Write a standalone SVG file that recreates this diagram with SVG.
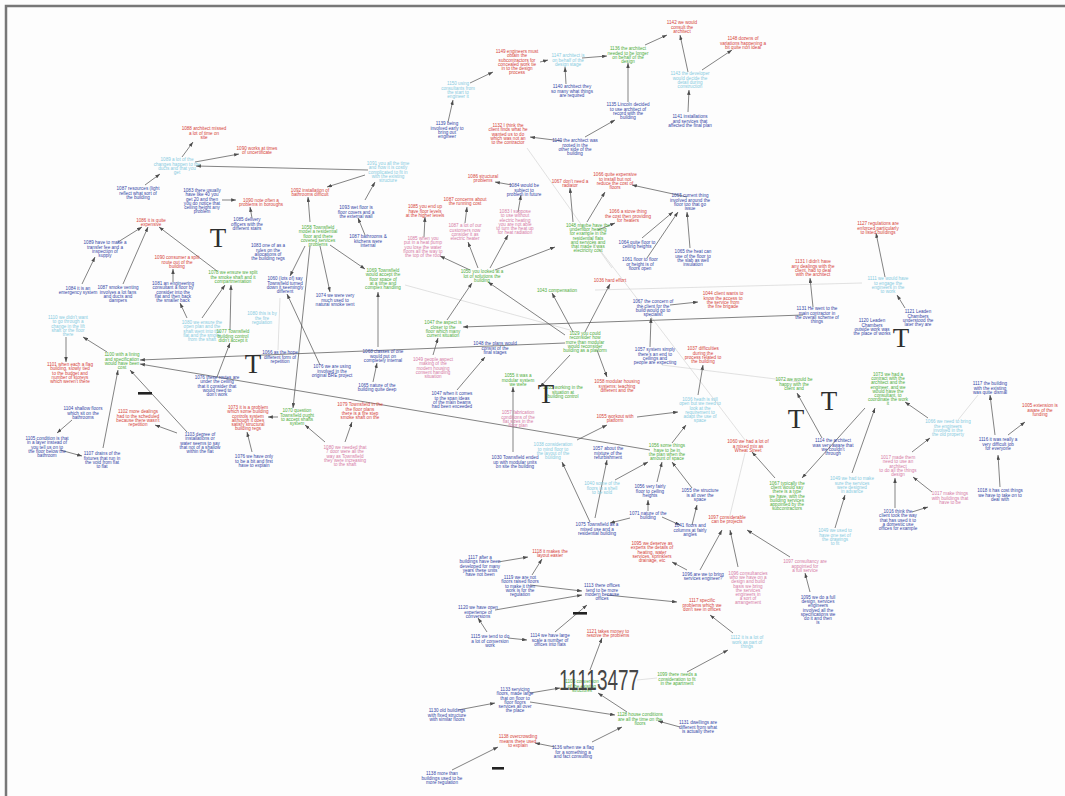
<svg xmlns="http://www.w3.org/2000/svg" width="1065" height="796" viewBox="0 0 1065 796">
<style>
text{font-family:"Liberation Sans",Arial,sans-serif;font-size:4.6px;text-anchor:middle}
.r text{fill:#d6433a}.b text{fill:#3446a6}.g text{fill:#4ead3c}.c text{fill:#87cbdf}.p text{fill:#d67ba6}
.e line{stroke:#4d4d4d;stroke-width:0.7;marker-end:url(#ah)}
.f line{stroke:#cfcfcf;stroke-width:0.6}
.big{font-family:"Liberation Serif",serif;font-size:27px;fill:#2e2e2e}
.num{font-family:"Liberation Sans",sans-serif;font-size:29px;fill:#333;opacity:.9}
</style>
<defs>
<marker id="ah" markerWidth="7" markerHeight="5" refX="7" refY="2.5" orient="auto"><path d="M0,0 L7,2.5 L0,5 z" fill="#4d4d4d"/></marker>
</defs>
<rect width="1065" height="796" fill="#fdfdfd"/>
<path d="M6,796 V6 H1065" fill="none" stroke="#777" stroke-width="2.5"/>

<g id="connectors">
<g class="f">
<line x1="527" y1="148" x2="612" y2="268"/>
<line x1="405" y1="285" x2="570" y2="330"/>
<line x1="595" y1="290" x2="862" y2="283"/>
<line x1="600" y1="250" x2="745" y2="440"/>
<line x1="662" y1="365" x2="800" y2="382"/>
<line x1="958" y1="420" x2="978" y2="395"/>
<line x1="278" y1="350" x2="280" y2="298"/>
<line x1="637" y1="680" x2="657" y2="678"/>
<line x1="730" y1="515" x2="745" y2="453"/>
</g>
<g class="e">
<line x1="582" y1="58" x2="607" y2="56"/>
<line x1="540" y1="62" x2="548" y2="60"/>
<line x1="566" y1="84" x2="565" y2="67"/>
<line x1="645" y1="45" x2="667" y2="35"/>
<line x1="628" y1="102" x2="628" y2="63"/>
<line x1="585" y1="137" x2="615" y2="120"/>
<line x1="702" y1="70" x2="732" y2="50"/>
<line x1="688" y1="72" x2="680" y2="35"/>
<line x1="688" y1="112" x2="689" y2="90"/>
<line x1="470" y1="83" x2="493" y2="72"/>
<line x1="448" y1="122" x2="453" y2="100"/>
<line x1="562" y1="141" x2="530" y2="137"/>
<line x1="885" y1="277" x2="876" y2="233"/>
<line x1="813" y1="307" x2="810" y2="278"/>
<line x1="905" y1="308" x2="897" y2="295"/>
<line x1="803" y1="315" x2="463" y2="327"/>
<line x1="182" y1="157" x2="193" y2="142"/>
<line x1="195" y1="162" x2="239" y2="154"/>
<line x1="368" y1="170" x2="196" y2="166"/>
<line x1="145" y1="185" x2="160" y2="174"/>
<line x1="222" y1="200" x2="236" y2="200"/>
<line x1="252" y1="218" x2="250" y2="207"/>
<line x1="118" y1="242" x2="142" y2="227"/>
<line x1="123" y1="284" x2="148" y2="227"/>
<line x1="82" y1="284" x2="95" y2="257"/>
<line x1="217" y1="271" x2="159" y2="227"/>
<line x1="173" y1="282" x2="173" y2="269"/>
<line x1="187" y1="318" x2="180" y2="303"/>
<line x1="202" y1="318" x2="225" y2="285"/>
<line x1="230" y1="330" x2="231" y2="285"/>
<line x1="66" y1="337" x2="66" y2="362"/>
<line x1="107" y1="352" x2="83" y2="337"/>
<line x1="565" y1="343" x2="140" y2="360"/>
<line x1="650" y1="450" x2="140" y2="364"/>
<line x1="72" y1="420" x2="57" y2="433"/>
<line x1="60" y1="450" x2="82" y2="456"/>
<line x1="103" y1="448" x2="118" y2="370"/>
<line x1="177" y1="433" x2="155" y2="425"/>
<line x1="187" y1="432" x2="130" y2="370"/>
<line x1="217" y1="377" x2="230" y2="343"/>
<line x1="252" y1="452" x2="247" y2="432"/>
<line x1="278" y1="417" x2="268" y2="417"/>
<line x1="310" y1="246" x2="293" y2="408"/>
<line x1="310" y1="222" x2="308" y2="197"/>
<line x1="365" y1="175" x2="327" y2="187"/>
<line x1="365" y1="200" x2="375" y2="182"/>
<line x1="365" y1="235" x2="358" y2="218"/>
<line x1="305" y1="246" x2="290" y2="276"/>
<line x1="320" y1="246" x2="330" y2="292"/>
<line x1="330" y1="245" x2="365" y2="269"/>
<line x1="320" y1="365" x2="287" y2="294"/>
<line x1="378" y1="347" x2="378" y2="292"/>
<line x1="373" y1="382" x2="377" y2="363"/>
<line x1="325" y1="442" x2="305" y2="425"/>
<line x1="345" y1="442" x2="352" y2="422"/>
<line x1="470" y1="270" x2="440" y2="256"/>
<line x1="478" y1="268" x2="468" y2="242"/>
<line x1="490" y1="268" x2="508" y2="235"/>
<line x1="424" y1="237" x2="425" y2="217"/>
<line x1="465" y1="223" x2="467" y2="207"/>
<line x1="518" y1="212" x2="521" y2="195"/>
<line x1="512" y1="185" x2="495" y2="182"/>
<line x1="447" y1="320" x2="472" y2="283"/>
<line x1="565" y1="335" x2="488" y2="282"/>
<line x1="433" y1="355" x2="438" y2="338"/>
<line x1="457" y1="390" x2="485" y2="357"/>
<line x1="513" y1="452" x2="513" y2="387"/>
<line x1="573" y1="222" x2="570" y2="188"/>
<line x1="587" y1="222" x2="605" y2="192"/>
<line x1="598" y1="230" x2="615" y2="223"/>
<line x1="495" y1="270" x2="555" y2="247"/>
<line x1="642" y1="238" x2="673" y2="212"/>
<line x1="647" y1="258" x2="678" y2="212"/>
<line x1="690" y1="248" x2="687" y2="212"/>
<line x1="687" y1="197" x2="632" y2="185"/>
<line x1="573" y1="332" x2="552" y2="293"/>
<line x1="585" y1="332" x2="610" y2="284"/>
<line x1="597" y1="350" x2="607" y2="377"/>
<line x1="570" y1="355" x2="540" y2="387"/>
<line x1="650" y1="347" x2="651" y2="318"/>
<line x1="670" y1="305" x2="698" y2="302"/>
<line x1="698" y1="395" x2="703" y2="365"/>
<line x1="637" y1="417" x2="678" y2="412"/>
<line x1="577" y1="440" x2="607" y2="425"/>
<line x1="672" y1="443" x2="686" y2="425"/>
<line x1="615" y1="480" x2="648" y2="462"/>
<line x1="657" y1="482" x2="662" y2="462"/>
<line x1="692" y1="488" x2="672" y2="462"/>
<line x1="648" y1="511" x2="648" y2="500"/>
<line x1="630" y1="518" x2="610" y2="523"/>
<line x1="590" y1="522" x2="562" y2="462"/>
<line x1="595" y1="518" x2="607" y2="460"/>
<line x1="662" y1="517" x2="680" y2="525"/>
<line x1="692" y1="525" x2="697" y2="505"/>
<line x1="775" y1="478" x2="752" y2="452"/>
<line x1="822" y1="438" x2="797" y2="393"/>
<line x1="865" y1="408" x2="802" y2="478"/>
<line x1="852" y1="473" x2="875" y2="408"/>
<line x1="928" y1="418" x2="905" y2="402"/>
<line x1="912" y1="452" x2="930" y2="438"/>
<line x1="932" y1="492" x2="913" y2="477"/>
<line x1="895" y1="508" x2="895" y2="478"/>
<line x1="912" y1="512" x2="928" y2="507"/>
<line x1="835" y1="528" x2="845" y2="495"/>
<line x1="995" y1="435" x2="990" y2="395"/>
<line x1="1008" y1="435" x2="1025" y2="422"/>
<line x1="1000" y1="487" x2="998" y2="455"/>
<line x1="498" y1="562" x2="528" y2="557"/>
<line x1="532" y1="575" x2="542" y2="559"/>
<line x1="495" y1="610" x2="582" y2="595"/>
<line x1="530" y1="585" x2="582" y2="591"/>
<line x1="487" y1="632" x2="478" y2="618"/>
<line x1="508" y1="638" x2="527" y2="640"/>
<line x1="555" y1="632" x2="587" y2="605"/>
<line x1="607" y1="595" x2="677" y2="602"/>
<line x1="733" y1="633" x2="710" y2="615"/>
<line x1="687" y1="570" x2="672" y2="562"/>
<line x1="700" y1="570" x2="722" y2="530"/>
<line x1="738" y1="567" x2="730" y2="530"/>
<line x1="790" y1="557" x2="747" y2="530"/>
<line x1="810" y1="592" x2="805" y2="573"/>
<line x1="590" y1="670" x2="602" y2="638"/>
<line x1="687" y1="672" x2="728" y2="650"/>
<line x1="458" y1="710" x2="495" y2="703"/>
<line x1="530" y1="693" x2="560" y2="688"/>
<line x1="530" y1="702" x2="615" y2="715"/>
<line x1="627" y1="712" x2="598" y2="693"/>
<line x1="680" y1="727" x2="658" y2="721"/>
<line x1="592" y1="742" x2="622" y2="727"/>
<line x1="555" y1="747" x2="535" y2="743"/>
<line x1="452" y1="770" x2="498" y2="747"/>
</g>
</g>

<g id="n1142" class="r"><text y="24.4"><tspan x="682">1142 we would</tspan><tspan x="682" dy="4.2">consult the</tspan><tspan x="682" dy="4.2">architect</tspan></text></g>
<g id="n1148" class="r"><text y="40.4"><tspan x="743">1148 dozens of</tspan><tspan x="743" dy="4.2">variations happening a</tspan><tspan x="743" dy="4.2">bit quite non ideal</tspan></text></g>
<g id="n1149" class="r"><text y="53.1"><tspan x="517">1149 engineers must</tspan><tspan x="517" dy="4.2">obtain the</tspan><tspan x="517" dy="4.2">subcontractors for</tspan><tspan x="517" dy="4.2">concealed work tie</tspan><tspan x="517" dy="4.2">in to the design</tspan><tspan x="517" dy="4.2">process</tspan></text></g>
<g id="n1150" class="c"><text y="85.3"><tspan x="458">1150 using</tspan><tspan x="458" dy="4.2">consultants from</tspan><tspan x="458" dy="4.2">the start to</tspan><tspan x="458" dy="4.2">engineer it</tspan></text></g>
<g id="n1139" class="b"><text y="125.3"><tspan x="447">1139 being</tspan><tspan x="447" dy="4.2">involved early to</tspan><tspan x="447" dy="4.2">bring out</tspan><tspan x="447" dy="4.2">engineer</tspan></text></g>
<g id="n1132" class="r"><text y="127.2"><tspan x="508">1132 I think the</tspan><tspan x="508" dy="4.2">client finds what he</tspan><tspan x="508" dy="4.2">wanted us to do</tspan><tspan x="508" dy="4.2">which was not an</tspan><tspan x="508" dy="4.2">to the contractor</tspan></text></g>
<g id="n1147" class="c"><text y="57.4"><tspan x="568">1147 architect is</tspan><tspan x="568" dy="4.2">on behalf of the</tspan><tspan x="568" dy="4.2">design stage</tspan></text></g>
<g id="n1136" class="g"><text y="50.3"><tspan x="628">1136 the architect</tspan><tspan x="628" dy="4.2">needed to be longer</tspan><tspan x="628" dy="4.2">on behalf of the</tspan><tspan x="628" dy="4.2">design</tspan></text></g>
<g id="n1140a" class="b"><text y="88.4"><tspan x="572">1140 architect they</tspan><tspan x="572" dy="4.2">so many what things</tspan><tspan x="572" dy="4.2">are required</tspan></text></g>
<g id="n1135" class="b"><text y="106.3"><tspan x="628">1135 Lincoln decided</tspan><tspan x="628" dy="4.2">to use architect of</tspan><tspan x="628" dy="4.2">record with the</tspan><tspan x="628" dy="4.2">building</tspan></text></g>
<g id="n1140" class="b"><text y="142.3"><tspan x="575">1140 the architect was</tspan><tspan x="575" dy="4.2">rooted in the</tspan><tspan x="575" dy="4.2">other side of the</tspan><tspan x="575" dy="4.2">building</tspan></text></g>
<g id="n1143" class="c"><text y="75.3"><tspan x="690">1143 the developer</tspan><tspan x="690" dy="4.2">would decide the</tspan><tspan x="690" dy="4.2">detail during</tspan><tspan x="690" dy="4.2">construction</tspan></text></g>
<g id="n1141" class="b"><text y="118.4"><tspan x="690">1141 installations</tspan><tspan x="690" dy="4.2">and services that</tspan><tspan x="690" dy="4.2">affected the final plan</tspan></text></g>
<g id="n1127" class="r"><text y="225.4"><tspan x="878">1127 regulations are</tspan><tspan x="878" dy="4.2">enforced particularly</tspan><tspan x="878" dy="4.2">to listed buildings</tspan></text></g>
<g id="n1131a" class="r"><text y="263.3"><tspan x="813">1131 I didn't have</tspan><tspan x="813" dy="4.2">any dealings with the</tspan><tspan x="813" dy="4.2">client, had to deal</tspan><tspan x="813" dy="4.2">with the architect</tspan></text></g>

<g id="n1088" class="r"><text y="130.4"><tspan x="204">1088 architect missed</tspan><tspan x="204" dy="4.2">a lot of time on</tspan><tspan x="204" dy="4.2">site</tspan></text></g>
<g id="n1089" class="c"><text y="161.3"><tspan x="177">1089 a lot of the</tspan><tspan x="177" dy="4.2">changes happen to the</tspan><tspan x="177" dy="4.2">ducts and that you</tspan><tspan x="177" dy="4.2">get</tspan></text></g>
<g id="n1090a" class="r"><text y="149.5"><tspan x="257">1090 works at times</tspan><tspan x="257" dy="4.2">of uncertificate</tspan></text></g>
<g id="n1091" class="c"><text y="165.2"><tspan x="388">1091 you all the time</tspan><tspan x="388" dy="4.2">and how it is costly</tspan><tspan x="388" dy="4.2">complicated to fit in</tspan><tspan x="388" dy="4.2">with the existing</tspan><tspan x="388" dy="4.2">structure</tspan></text></g>
<g id="n1087a" class="b"><text y="190.4"><tspan x="138">1087 resources (light</tspan><tspan x="138" dy="4.2">reflect what sort of</tspan><tspan x="138" dy="4.2">the building</tspan></text></g>
<g id="n1083a" class="b"><text y="192.1"><tspan x="202">1083 there usually</tspan><tspan x="202" dy="4.2">have like 40 you</tspan><tspan x="202" dy="4.2">get 20 and then</tspan><tspan x="202" dy="4.2">you do notice that</tspan><tspan x="202" dy="4.2">ceiling height any</tspan><tspan x="202" dy="4.2">problem</tspan></text></g>
<g id="n1090b" class="r"><text y="201.5"><tspan x="261">1090 note often a</tspan><tspan x="261" dy="4.2">problems in boroughs</tspan></text></g>
<g id="n1085a" class="b"><text y="221.4"><tspan x="247">1085 delivery</tspan><tspan x="247" dy="4.2">officers with the</tspan><tspan x="247" dy="4.2">different stairs</tspan></text></g>
<g id="n1083c" class="b"><text y="247.3"><tspan x="268">1083 one of as a</tspan><tspan x="268" dy="4.2">rules on the</tspan><tspan x="268" dy="4.2">allocations of</tspan><tspan x="268" dy="4.2">the building regs</tspan></text></g>
<g id="n1086c" class="r"><text y="221.5"><tspan x="151">1086 it is quite</tspan><tspan x="151" dy="4.2">expensive</tspan></text></g>
<g id="n1089b" class="b"><text y="244.3"><tspan x="105">1089 have to make a</tspan><tspan x="105" dy="4.2">transfer fee and a</tspan><tspan x="105" dy="4.2">inspection of</tspan><tspan x="105" dy="4.2">supply</tspan></text></g>
<g id="n1090c" class="r"><text y="259.4"><tspan x="177">1090 consumer a split</tspan><tspan x="177" dy="4.2">route out of the</tspan><tspan x="177" dy="4.2">building</tspan></text></g>
<g id="n1092" class="r"><text y="191.5"><tspan x="310">1092 installation of</tspan><tspan x="310" dy="4.2">bathrooms difficult</tspan></text></g>
<g id="n1093" class="b"><text y="209.4"><tspan x="356">1093 wet floor is</tspan><tspan x="356" dy="4.2">floor covers and a</tspan><tspan x="356" dy="4.2">the external wall</tspan></text></g>
<g id="n1087b" class="b"><text y="238.4"><tspan x="368">1087 bathrooms &amp;</tspan><tspan x="368" dy="4.2">kitchens were</tspan><tspan x="368" dy="4.2">internal</tspan></text></g>
<g id="n1058" class="g"><text y="229.2"><tspan x="318">1058 Townsfield</tspan><tspan x="318" dy="4.2">model a residential</tspan><tspan x="318" dy="4.2">floor and there</tspan><tspan x="318" dy="4.2">covered services</tspan><tspan x="318" dy="4.2">problems</tspan></text></g>
<g id="n1085b" class="r"><text y="208.4"><tspan x="425">1085 you end up</tspan><tspan x="425" dy="4.2">have floor levels</tspan><tspan x="425" dy="4.2">at the higher levels</tspan></text></g>
<g id="n1087c" class="r"><text y="200.5"><tspan x="465">1087 concerns about</tspan><tspan x="465" dy="4.2">the running cost</tspan></text></g>
<g id="n1086b" class="r"><text y="177.5"><tspan x="483">1086 structural</tspan><tspan x="483" dy="4.2">problems</tspan></text></g>
<g id="n1084a" class="b"><text y="187.4"><tspan x="524">1084 would be</tspan><tspan x="524" dy="4.2">subject to</tspan><tspan x="524" dy="4.2">problem in future</tspan></text></g>
<g id="n1085c" class="p"><text y="240.2"><tspan x="423">1085 when you</tspan><tspan x="423" dy="4.2">put in a heat pump</tspan><tspan x="423" dy="4.2">you lose the water</tspan><tspan x="423" dy="4.2">floors all the way to</tspan><tspan x="423" dy="4.2">the top of the roof</tspan></text></g>
<g id="n1087d" class="p"><text y="227.3"><tspan x="465">1087 a lot of our</tspan><tspan x="465" dy="4.2">customers now</tspan><tspan x="465" dy="4.2">consider it as</tspan><tspan x="465" dy="4.2">electric heater</tspan></text></g>
<g id="n1083b" class="p"><text y="213.1"><tspan x="515">1083 I suppose</tspan><tspan x="515" dy="4.2">to use without</tspan><tspan x="515" dy="4.2">electric heating</tspan><tspan x="515" dy="4.2">you are not able</tspan><tspan x="515" dy="4.2">to turn the heat up</tspan><tspan x="515" dy="4.2">for heat radiation</tspan></text></g>
<g id="n1066a" class="r"><text y="176.3"><tspan x="615">1066 quite expensive</tspan><tspan x="615" dy="4.2">to install but not</tspan><tspan x="615" dy="4.2">reduce the cost of</tspan><tspan x="615" dy="4.2">floors</tspan></text></g>
<g id="n1067a" class="r"><text y="182.5"><tspan x="570">1067 don't need a</tspan><tspan x="570" dy="4.2">radiator</tspan></text></g>
<g id="n1066b" class="r"><text y="213.4"><tspan x="628">1066 a stove thing</tspan><tspan x="628" dy="4.2">the cost then providing</tspan><tspan x="628" dy="4.2">for heaters</tspan></text></g>
<g id="n1065a" class="b"><text y="197.3"><tspan x="690">1065 current thing</tspan><tspan x="690" dy="4.2">involved around the</tspan><tspan x="690" dy="4.2">floor too that go</tspan><tspan x="690" dy="4.2">issue</tspan></text></g>
<g id="n1048" class="g"><text y="227"><tspan x="588">1048 maybe have the</tspan><tspan x="588" dy="4.2">underfloor heating</tspan><tspan x="588" dy="4.2">for example in the</tspan><tspan x="588" dy="4.2">residential flats</tspan><tspan x="588" dy="4.2">and services and</tspan><tspan x="588" dy="4.2">that made it was</tspan><tspan x="588" dy="4.2">electricity cost</tspan></text></g>
<g id="n1064" class="b"><text y="243.5"><tspan x="637">1064 quite floor to</tspan><tspan x="637" dy="4.2">ceiling heights</tspan></text></g>
<g id="n1061" class="b"><text y="261.4"><tspan x="640">1061 floor to floor</tspan><tspan x="640" dy="4.2">or height is of</tspan><tspan x="640" dy="4.2">floors open</tspan></text></g>
<g id="n1065b" class="b"><text y="253.3"><tspan x="693">1065 the heat can</tspan><tspan x="693" dy="4.2">use of the floor to</tspan><tspan x="693" dy="4.2">the slab as well</tspan><tspan x="693" dy="4.2">insulation</tspan></text></g>

<g id="n1084b" class="b"><text y="289.5"><tspan x="78">1084 it is an</tspan><tspan x="78" dy="4.2">emergency system</tspan></text></g>
<g id="n1087e" class="b"><text y="289.3"><tspan x="118">1087 smoke venting</tspan><tspan x="118" dy="4.2">involves a lot fans</tspan><tspan x="118" dy="4.2">and ducts and</tspan><tspan x="118" dy="4.2">dampers</tspan></text></g>
<g id="n1081" class="b"><text y="285.2"><tspan x="173">1081 an engineering</tspan><tspan x="173" dy="4.2">consultant a floor by</tspan><tspan x="173" dy="4.2">consider into the</tspan><tspan x="173" dy="4.2">flat and then back</tspan><tspan x="173" dy="4.2">the smaller back</tspan></text></g>
<g id="n1078" class="g"><text y="274.4"><tspan x="233">1078 we ensure we split</tspan><tspan x="233" dy="4.2">the smoke shaft and it</tspan><tspan x="233" dy="4.2">compartmentation</tspan></text></g>
<g id="n1080a" class="c"><text y="324.2"><tspan x="202">1080 we ensure the</tspan><tspan x="202" dy="4.2">open plan and the</tspan><tspan x="202" dy="4.2">shaft went into the</tspan><tspan x="202" dy="4.2">flat and the smoke</tspan><tspan x="202" dy="4.2">from the shaft</tspan></text></g>
<g id="n1077" class="g"><text y="333.4"><tspan x="233">1077 Townsfield</tspan><tspan x="233" dy="4.2">building control</tspan><tspan x="233" dy="4.2">didn't accept it</tspan></text></g>
<g id="n1110" class="c"><text y="319.2"><tspan x="68">1110 we didn't want</tspan><tspan x="68" dy="4.2">to go through a</tspan><tspan x="68" dy="4.2">change in the lift</tspan><tspan x="68" dy="4.2">shaft or the floor</tspan><tspan x="68" dy="4.2">there</tspan></text></g>
<g id="n1101" class="r"><text y="366.2"><tspan x="70">1101 when each a flag</tspan><tspan x="70" dy="4.2">building, slowly tied</tspan><tspan x="70" dy="4.2">to the budget and</tspan><tspan x="70" dy="4.2">number of storeys</tspan><tspan x="70" dy="4.2">which weren't there</tspan></text></g>
<g id="n1100" class="g"><text y="356.3"><tspan x="122">1100 with a lining</tspan><tspan x="122" dy="4.2">and specification</tspan><tspan x="122" dy="4.2">would have been</tspan><tspan x="122" dy="4.2">cost</tspan></text></g>
<g id="n1104" class="b"><text y="410.4"><tspan x="83">1104 shallow floors</tspan><tspan x="83" dy="4.2">which sit on the</tspan><tspan x="83" dy="4.2">bathrooms</tspan></text></g>
<g id="n1105" class="b"><text y="440.2"><tspan x="47">1105 condition is that</tspan><tspan x="47" dy="4.2">in a layer instead of</tspan><tspan x="47" dy="4.2">you tell us on to</tspan><tspan x="47" dy="4.2">the floor below the</tspan><tspan x="47" dy="4.2">bathroom</tspan></text></g>
<g id="n1107" class="b"><text y="455.3"><tspan x="102">1107 drains of the</tspan><tspan x="102" dy="4.2">fixtures that run in</tspan><tspan x="102" dy="4.2">the void from flat</tspan><tspan x="102" dy="4.2">to flat</tspan></text></g>
<g id="n1102" class="r"><text y="413.3"><tspan x="138">1102 more dealings</tspan><tspan x="138" dy="4.2">had to the scheduled</tspan><tspan x="138" dy="4.2">because there wasn't</tspan><tspan x="138" dy="4.2">repetition</tspan></text></g>
<g id="n1103" class="b"><text y="436.2"><tspan x="200">1103 degree of</tspan><tspan x="200" dy="4.2">installations or</tspan><tspan x="200" dy="4.2">water seems to say</tspan><tspan x="200" dy="4.2">that not of a shallow</tspan><tspan x="200" dy="4.2">within the flat</tspan></text></g>
<g id="n1076a" class="b"><text y="379.2"><tspan x="217">1076 these routes are</tspan><tspan x="217" dy="4.2">under the ceiling</tspan><tspan x="217" dy="4.2">that it consider that</tspan><tspan x="217" dy="4.2">would need to</tspan><tspan x="217" dy="4.2">don't work</tspan></text></g>
<g id="n1073" class="r"><text y="409.1"><tspan x="248">1073 it is a problem</tspan><tspan x="248" dy="4.2">which some building</tspan><tspan x="248" dy="4.2">controls system</tspan><tspan x="248" dy="4.2">although it does</tspan><tspan x="248" dy="4.2">satisfy structural</tspan><tspan x="248" dy="4.2">building regs</tspan></text></g>
<g id="n1076b" class="b"><text y="458.4"><tspan x="254">1076 we have only</tspan><tspan x="254" dy="4.2">to be a bit and first</tspan><tspan x="254" dy="4.2">have to explain</tspan></text></g>
<g id="n1060" class="b"><text y="280.3"><tspan x="285">1060 (lots of) say</tspan><tspan x="285" dy="4.2">Townsfield turned</tspan><tspan x="285" dy="4.2">down it seemingly</tspan><tspan x="285" dy="4.2">different</tspan></text></g>
<g id="n1074" class="b"><text y="297.4"><tspan x="335">1074 we were very</tspan><tspan x="335" dy="4.2">much used to</tspan><tspan x="335" dy="4.2">natural smoke vent</tspan></text></g>
<g id="n1069" class="g"><text y="272.2"><tspan x="383">1069 Townsfield</tspan><tspan x="383" dy="4.2">would accept the</tspan><tspan x="383" dy="4.2">floor space of</tspan><tspan x="383" dy="4.2">at a time and</tspan><tspan x="383" dy="4.2">complex handling</tspan></text></g>
<g id="n1068" class="b"><text y="353.4"><tspan x="383">1068 classes of one</tspan><tspan x="383" dy="4.2">would put on</tspan><tspan x="383" dy="4.2">completely internal</tspan></text></g>
<g id="n1065c" class="b"><text y="386.5"><tspan x="377">1065 nature of the</tspan><tspan x="377" dy="4.2">building quite deep</tspan></text></g>
<g id="n1080b" class="c"><text y="315.4"><tspan x="262">1080 this is by</tspan><tspan x="262" dy="4.2">the fire</tspan><tspan x="262" dy="4.2">regulation</tspan></text></g>
<g id="n1066c" class="b"><text y="354.4"><tspan x="280">1066 as the hope</tspan><tspan x="280" dy="4.2">different form of</tspan><tspan x="280" dy="4.2">repetition</tspan></text></g>
<g id="n1076c" class="b"><text y="368.4"><tspan x="332">1076 we are using</tspan><tspan x="332" dy="4.2">involved in the</tspan><tspan x="332" dy="4.2">original BRE project</tspan></text></g>
<g id="n1070" class="g"><text y="412.3"><tspan x="297">1070 question</tspan><tspan x="297" dy="4.2">Townsfield ought</tspan><tspan x="297" dy="4.2">to accept shafts</tspan><tspan x="297" dy="4.2">system</tspan></text></g>
<g id="n1079" class="r"><text y="406.3"><tspan x="360">1079 Townsfield in the</tspan><tspan x="360" dy="4.2">the floor plans</tspan><tspan x="360" dy="4.2">there is a fire step</tspan><tspan x="360" dy="4.2">smoke shaft on the</tspan></text></g>
<g id="n1080c" class="p"><text y="449.2"><tspan x="345">1080 we needed that</tspan><tspan x="345" dy="4.2">7 door were all the</tspan><tspan x="345" dy="4.2">way as Townsfield</tspan><tspan x="345" dy="4.2">they were increasing</tspan><tspan x="345" dy="4.2">to the shaft</tspan></text></g>

<g id="n1050" class="g"><text y="273.4"><tspan x="482">1050 you looked at a</tspan><tspan x="482" dy="4.2">lot of solutions the</tspan><tspan x="482" dy="4.2">building</tspan></text></g>
<g id="n1047a" class="g"><text y="324.3"><tspan x="443">1047 the aspect is</tspan><tspan x="443" dy="4.2">closer to the</tspan><tspan x="443" dy="4.2">floor which many</tspan><tspan x="443" dy="4.2">current situation</tspan></text></g>
<g id="n1049" class="p"><text y="361.2"><tspan x="433">1049 people aspect</tspan><tspan x="433" dy="4.2">making of the</tspan><tspan x="433" dy="4.2">modern housing</tspan><tspan x="433" dy="4.2">consent handling</tspan><tspan x="433" dy="4.2">situation</tspan></text></g>
<g id="n1048b" class="b"><text y="345.4"><tspan x="495">1048 the plans would</tspan><tspan x="495" dy="4.2">consist of the</tspan><tspan x="495" dy="4.2">final stages</tspan></text></g>
<g id="n1047b" class="b"><text y="395.3"><tspan x="452">1047 when it comes</tspan><tspan x="452" dy="4.2">to the span ideas</tspan><tspan x="452" dy="4.2">of the main beams</tspan><tspan x="452" dy="4.2">had been exceeded</tspan></text></g>
<g id="n1030" class="b"><text y="459.4"><tspan x="515">1030 Townsfield ended</tspan><tspan x="515" dy="4.2">up with modular units</tspan><tspan x="515" dy="4.2">on site the building</tspan></text></g>
<g id="n1057a" class="p"><text y="414.3"><tspan x="518">1057 fabrication</tspan><tspan x="518" dy="4.2">conditions of the</tspan><tspan x="518" dy="4.2">flat sizes in the</tspan><tspan x="518" dy="4.2">floor plan</tspan></text></g>
<g id="n1055a" class="g"><text y="377.4"><tspan x="518">1055 it was a</tspan><tspan x="518" dy="4.2">modular system</tspan><tspan x="518" dy="4.2">we were</tspan></text></g>
<g id="n1036a" class="r"><text y="281.6"><tspan x="610">1036 hard effort</tspan></text></g>
<g id="n1043" class="g"><text y="291.6"><tspan x="557">1043 compensation</tspan></text></g>
<g id="n1067b" class="b"><text y="303.3"><tspan x="653">1067 the concern of</tspan><tspan x="653" dy="4.2">the client for the</tspan><tspan x="653" dy="4.2">build would go to</tspan><tspan x="653" dy="4.2">specialist</tspan></text></g>
<g id="n1044" class="r"><text y="295.3"><tspan x="723">1044 client wants to</tspan><tspan x="723" dy="4.2">know the access to</tspan><tspan x="723" dy="4.2">the service from</tspan><tspan x="723" dy="4.2">the fire brigade</tspan></text></g>
<g id="n1057b" class="b"><text y="351.3"><tspan x="655">1057 system simply</tspan><tspan x="655" dy="4.2">there's an end to</tspan><tspan x="655" dy="4.2">ceilings and</tspan><tspan x="655" dy="4.2">people are expecting</tspan></text></g>
<g id="n1029" class="g"><text y="335.2"><tspan x="585">1029 you could</tspan><tspan x="585" dy="4.2">reconsider how</tspan><tspan x="585" dy="4.2">more than modular</tspan><tspan x="585" dy="4.2">would reconsider</tspan><tspan x="585" dy="4.2">building as a platform</tspan></text></g>
<g id="n1058b" class="r"><text y="383.4"><tspan x="617">1058 modular housing</tspan><tspan x="617" dy="4.2">systems: teaching</tspan><tspan x="617" dy="4.2">different and the</tspan></text></g>
<g id="n1035" class="g"><text y="389.4"><tspan x="563">1035 working in the</tspan><tspan x="563" dy="4.2">situation at</tspan><tspan x="563" dy="4.2">building control</tspan></text></g>
<g id="n1037" class="r"><text y="350.3"><tspan x="703">1037 difficulties</tspan><tspan x="703" dy="4.2">during the</tspan><tspan x="703" dy="4.2">process related to</tspan><tspan x="703" dy="4.2">the building</tspan></text></g>
<g id="n1036b" class="c"><text y="401.1"><tspan x="700">1036 heath is still</tspan><tspan x="700" dy="4.2">open but we need to</tspan><tspan x="700" dy="4.2">look at the</tspan><tspan x="700" dy="4.2">requirement to</tspan><tspan x="700" dy="4.2">adapt the use of</tspan><tspan x="700" dy="4.2">space</tspan></text></g>
<g id="n1055b" class="r"><text y="417.5"><tspan x="615">1055 workout with</tspan><tspan x="615" dy="4.2">platform</tspan></text></g>
<g id="n1038" class="c"><text y="446.3"><tspan x="553">1038 consideration</tspan><tspan x="553" dy="4.2">to mind floor to</tspan><tspan x="553" dy="4.2">the layout of the</tspan><tspan x="553" dy="4.2">building</tspan></text></g>
<g id="n1057c" class="b"><text y="450.4"><tspan x="608">1057 about the</tspan><tspan x="608" dy="4.2">mixture of the</tspan><tspan x="608" dy="4.2">refurbishment</tspan></text></g>
<g id="n1056a" class="g"><text y="447.3"><tspan x="667">1056 some things</tspan><tspan x="667" dy="4.2">have to be in</tspan><tspan x="667" dy="4.2">the plan when the</tspan><tspan x="667" dy="4.2">amount of space</tspan></text></g>
<g id="n1040" class="c"><text y="485.4"><tspan x="602">1040 some of the</tspan><tspan x="602" dy="4.2">floors in a shell</tspan><tspan x="602" dy="4.2">to be sold</tspan></text></g>
<g id="n1056b" class="b"><text y="488.4"><tspan x="650">1056 very fairly</tspan><tspan x="650" dy="4.2">floor to ceiling</tspan><tspan x="650" dy="4.2">heights</tspan></text></g>
<g id="n1055c" class="b"><text y="492.4"><tspan x="700">1055 the structure</tspan><tspan x="700" dy="4.2">is all over the</tspan><tspan x="700" dy="4.2">space</tspan></text></g>
<g id="n1071" class="b"><text y="514.5"><tspan x="648">1071 nature of the</tspan><tspan x="648" dy="4.2">building</tspan></text></g>
<g id="n1075" class="b"><text y="526.4"><tspan x="597">1075 Townsfield as a</tspan><tspan x="597" dy="4.2">mixed use and a</tspan><tspan x="597" dy="4.2">residential building</tspan></text></g>
<g id="n1041" class="b"><text y="527.4"><tspan x="690">1041 floors and</tspan><tspan x="690" dy="4.2">columns at fairly</tspan><tspan x="690" dy="4.2">angles</tspan></text></g>
<g id="n1097" class="r"><text y="518.5"><tspan x="727">1097 considerable</tspan><tspan x="727" dy="4.2">can be projects</tspan></text></g>
<g id="n1060c" class="r"><text y="443.4"><tspan x="748">1060 we had a lot of</tspan><tspan x="748" dy="4.2">a mixed mix as</tspan><tspan x="748" dy="4.2">Wheat Street</tspan></text></g>
<g id="n1067d" class="g"><text y="485"><tspan x="787">1067 typically the</tspan><tspan x="787" dy="4.2">client would say</tspan><tspan x="787" dy="4.2">there is a type</tspan><tspan x="787" dy="4.2">we have, with the</tspan><tspan x="787" dy="4.2">building services</tspan><tspan x="787" dy="4.2">appointed by the</tspan><tspan x="787" dy="4.2">subcontractors</tspan></text></g>
<g id="n1072" class="g"><text y="381.4"><tspan x="794">1072 we would be</tspan><tspan x="794" dy="4.2">happy with the</tspan><tspan x="794" dy="4.2">client and</tspan></text></g>

<g id="n1111" class="c"><text y="280.3"><tspan x="888">1111 we would have</tspan><tspan x="888" dy="4.2">to engage the</tspan><tspan x="888" dy="4.2">engineers in the</tspan><tspan x="888" dy="4.2">to work</tspan></text></g>
<g id="n1121" class="b"><text y="313.3"><tspan x="918">1121 Leaden</tspan><tspan x="918" dy="4.2">Chambers</tspan><tspan x="918" dy="4.2">understood the</tspan><tspan x="918" dy="4.2">later they are</tspan></text></g>
<g id="n1120" class="b"><text y="322.3"><tspan x="872">1120 Leaden</tspan><tspan x="872" dy="4.2">Chambers</tspan><tspan x="872" dy="4.2">outside work was</tspan><tspan x="872" dy="4.2">the place of works</tspan></text></g>
<g id="n1131b" class="b"><text y="310.3"><tspan x="817">1131 He went to the</tspan><tspan x="817" dy="4.2">main contractor in</tspan><tspan x="817" dy="4.2">the overall scheme of</tspan><tspan x="817" dy="4.2">things</tspan></text></g>
<g id="n1073b" class="g"><text y="375.9"><tspan x="888">1073 we had a</tspan><tspan x="888" dy="4.2">contract with the</tspan><tspan x="888" dy="4.2">architect and the</tspan><tspan x="888" dy="4.2">engineer, and we</tspan><tspan x="888" dy="4.2">would have the</tspan><tspan x="888" dy="4.2">consultant, to</tspan><tspan x="888" dy="4.2">coordinate the work</tspan><tspan x="888" dy="4.2">it</tspan></text></g>
<g id="n1066d" class="c"><text y="423.3"><tspan x="948">1066 we need to bring</tspan><tspan x="948" dy="4.2">the engineers</tspan><tspan x="948" dy="4.2">involved in the</tspan><tspan x="948" dy="4.2">the old property</tspan></text></g>
<g id="n1117" class="b"><text y="385.4"><tspan x="990">1117 the building</tspan><tspan x="990" dy="4.2">with the existing</tspan><tspan x="990" dy="4.2">was quite dismal</tspan></text></g>
<g id="n1005" class="r"><text y="407.4"><tspan x="1040">1005 extension is</tspan><tspan x="1040" dy="4.2">aware of the</tspan><tspan x="1040" dy="4.2">funding</tspan></text></g>
<g id="n1116" class="b"><text y="441.4"><tspan x="998">1116 it was really a</tspan><tspan x="998" dy="4.2">very difficult job</tspan><tspan x="998" dy="4.2">for everyone</tspan></text></g>
<g id="n1018" class="b"><text y="492.4"><tspan x="1000">1018 it has cost things</tspan><tspan x="1000" dy="4.2">we have to take on to</tspan><tspan x="1000" dy="4.2">deal with</tspan></text></g>
<g id="n1114" class="b"><text y="442.3"><tspan x="833">1114 the architect</tspan><tspan x="833" dy="4.2">was very aware that</tspan><tspan x="833" dy="4.2">we couldn't</tspan><tspan x="833" dy="4.2">through</tspan></text></g>
<g id="n1049b" class="c"><text y="480.3"><tspan x="852">1049 we had to make</tspan><tspan x="852" dy="4.2">sure the services</tspan><tspan x="852" dy="4.2">were designed</tspan><tspan x="852" dy="4.2">in advance</tspan></text></g>
<g id="n1017a" class="p"><text y="459.2"><tspan x="898">1017 made them</tspan><tspan x="898" dy="4.2">need to use an</tspan><tspan x="898" dy="4.2">architect</tspan><tspan x="898" dy="4.2">to do all the things</tspan><tspan x="898" dy="4.2">design</tspan></text></g>
<g id="n1017b" class="p"><text y="495.4"><tspan x="950">1017 make things</tspan><tspan x="950" dy="4.2">with buildings that</tspan><tspan x="950" dy="4.2">have to be</tspan></text></g>
<g id="n1016" class="b"><text y="513.2"><tspan x="898">1016 think the</tspan><tspan x="898" dy="4.2">client took the way</tspan><tspan x="898" dy="4.2">that has used it to</tspan><tspan x="898" dy="4.2">a domestic use</tspan><tspan x="898" dy="4.2">offices for example</tspan></text></g>
<g id="n1049c" class="c"><text y="532.3"><tspan x="835">1049 we used to</tspan><tspan x="835" dy="4.2">have one set of</tspan><tspan x="835" dy="4.2">the drawings</tspan><tspan x="835" dy="4.2">to fit</tspan></text></g>

<g id="n1117b" class="b"><text y="559.2"><tspan x="480">1117 after a</tspan><tspan x="480" dy="4.2">buildings have been</tspan><tspan x="480" dy="4.2">developed for many</tspan><tspan x="480" dy="4.2">years these units</tspan><tspan x="480" dy="4.2">have not been</tspan></text></g>
<g id="n1119" class="b"><text y="579.2"><tspan x="520">1119 we are not</tspan><tspan x="520" dy="4.2">floors raised floors</tspan><tspan x="520" dy="4.2">to make it then</tspan><tspan x="520" dy="4.2">work is for the</tspan><tspan x="520" dy="4.2">regulation</tspan></text></g>
<g id="n1118" class="r"><text y="552.5"><tspan x="550">1118 it makes the</tspan><tspan x="550" dy="4.2">layout easier</tspan></text></g>
<g id="n1120b" class="b"><text y="609.4"><tspan x="478">1120 we have open</tspan><tspan x="478" dy="4.2">experience of</tspan><tspan x="478" dy="4.2">conversions</tspan></text></g>
<g id="n1115" class="b"><text y="638.4"><tspan x="490">1115 we tend to do</tspan><tspan x="490" dy="4.2">a lot of conversion</tspan><tspan x="490" dy="4.2">work</tspan></text></g>
<g id="n1113" class="b"><text y="587.3"><tspan x="602">1113 there offices</tspan><tspan x="602" dy="4.2">tend to be more</tspan><tspan x="602" dy="4.2">modern because</tspan><tspan x="602" dy="4.2">offices</tspan></text></g>
<g id="n1117c" class="r"><text y="602.4"><tspan x="702">1117 specific</tspan><tspan x="702" dy="4.2">problems which we</tspan><tspan x="702" dy="4.2">don't see in offices</tspan></text></g>
<g id="n1095" class="r"><text y="545.2"><tspan x="652">1095 we deserve as</tspan><tspan x="652" dy="4.2">experts the details of</tspan><tspan x="652" dy="4.2">heating, water</tspan><tspan x="652" dy="4.2">services, sprinklers</tspan><tspan x="652" dy="4.2">drainage, etc</tspan></text></g>
<g id="n1096" class="b"><text y="575.5"><tspan x="703">1096 are we to bring</tspan><tspan x="703" dy="4.2">services engineer?</tspan></text></g>
<g id="n1096b" class="p"><text y="574.9"><tspan x="748">1096 consultancies</tspan><tspan x="748" dy="4.2">who we have on a</tspan><tspan x="748" dy="4.2">design and build</tspan><tspan x="748" dy="4.2">basis we bring</tspan><tspan x="748" dy="4.2">the services</tspan><tspan x="748" dy="4.2">engineers in</tspan><tspan x="748" dy="4.2">a sort of</tspan><tspan x="748" dy="4.2">arrangement</tspan></text></g>
<g id="n1121b" class="r"><text y="632.5"><tspan x="608">1121 takes money to</tspan><tspan x="608" dy="4.2">resolve the problems</tspan></text></g>
<g id="n1114b" class="b"><text y="637.4"><tspan x="550">1114 we have large</tspan><tspan x="550" dy="4.2">scale a number of</tspan><tspan x="550" dy="4.2">offices into flats</tspan></text></g>
<g id="n1112" class="c"><text y="639.4"><tspan x="747">1112 it is a lot of</tspan><tspan x="747" dy="4.2">work as part of</tspan><tspan x="747" dy="4.2">things</tspan></text></g>
<g id="n1103b" class="g"><text y="683.4"><tspan x="582">1103 conversion</tspan><tspan x="582" dy="4.2">of the existing</tspan><tspan x="582" dy="4.2">structures</tspan></text></g>
<g id="n1099" class="g"><text y="676.4"><tspan x="677">1099 there needs a</tspan><tspan x="677" dy="4.2">consideration to fit</tspan><tspan x="677" dy="4.2">in the apartment</tspan></text></g>
<g id="n1128" class="g"><text y="716.4"><tspan x="640">1128 house conditions</tspan><tspan x="640" dy="4.2">are all the time on the</tspan><tspan x="640" dy="4.2">floors</tspan></text></g>
<g id="n1131c" class="b"><text y="724.4"><tspan x="698">1131 dwellings are</tspan><tspan x="698" dy="4.2">different from what</tspan><tspan x="698" dy="4.2">is actually there</tspan></text></g>
<g id="n1136b" class="b"><text y="749.4"><tspan x="573">1136 when we a flag</tspan><tspan x="573" dy="4.2">for a something a</tspan><tspan x="573" dy="4.2">and fact consulting</tspan></text></g>
<g id="n1133" class="b"><text y="691.1"><tspan x="515">1133 servicing</tspan><tspan x="515" dy="4.2">floors, made large</tspan><tspan x="515" dy="4.2">that on floor to</tspan><tspan x="515" dy="4.2">floor floors</tspan><tspan x="515" dy="4.2">services all over</tspan><tspan x="515" dy="4.2">the place</tspan></text></g>
<g id="n1130" class="b"><text y="712.4"><tspan x="447">1130 old buildings</tspan><tspan x="447" dy="4.2">with fixed structure</tspan><tspan x="447" dy="4.2">with similar floors</tspan></text></g>
<g id="n1138a" class="r"><text y="738.4"><tspan x="518">1138 overcrowding</tspan><tspan x="518" dy="4.2">means there used</tspan><tspan x="518" dy="4.2">to explain</tspan></text></g>
<g id="n1138b" class="b"><text y="775.4"><tspan x="442">1138 more than</tspan><tspan x="442" dy="4.2">buildings used to be</tspan><tspan x="442" dy="4.2">more regulation</tspan></text></g>
<g id="n1095b" class="b"><text y="599"><tspan x="818">1095 we do a full</tspan><tspan x="818" dy="4.2">design, services</tspan><tspan x="818" dy="4.2">engineers</tspan><tspan x="818" dy="4.2">involved all the</tspan><tspan x="818" dy="4.2">specifications we</tspan><tspan x="818" dy="4.2">do it and then</tspan><tspan x="818" dy="4.2">is</tspan></text></g>
<g id="n1097b" class="p"><text y="563.4"><tspan x="805">1097 consultancy are</tspan><tspan x="805" dy="4.2">appointed for</tspan><tspan x="805" dy="4.2">a full service</tspan></text></g>

<g id="marks">
<text class="big" x="218" y="247">T</text>
<text class="big" x="253" y="373">T</text>
<text class="big" x="546" y="403">T</text>
<text class="big" x="796" y="428">T</text>
<text class="big" x="829" y="410">T</text>
<text class="big" x="901" y="347">T</text>
<text class="num" x="599" y="690" textLength="80" lengthAdjust="spacingAndGlyphs">11113477</text>
<rect x="138" y="392" width="14" height="2.6" fill="#222"/>
<rect x="573" y="612" width="14" height="2.6" fill="#222"/>
<rect x="492" y="767" width="12" height="2.6" fill="#222"/>
</g>
</svg>
